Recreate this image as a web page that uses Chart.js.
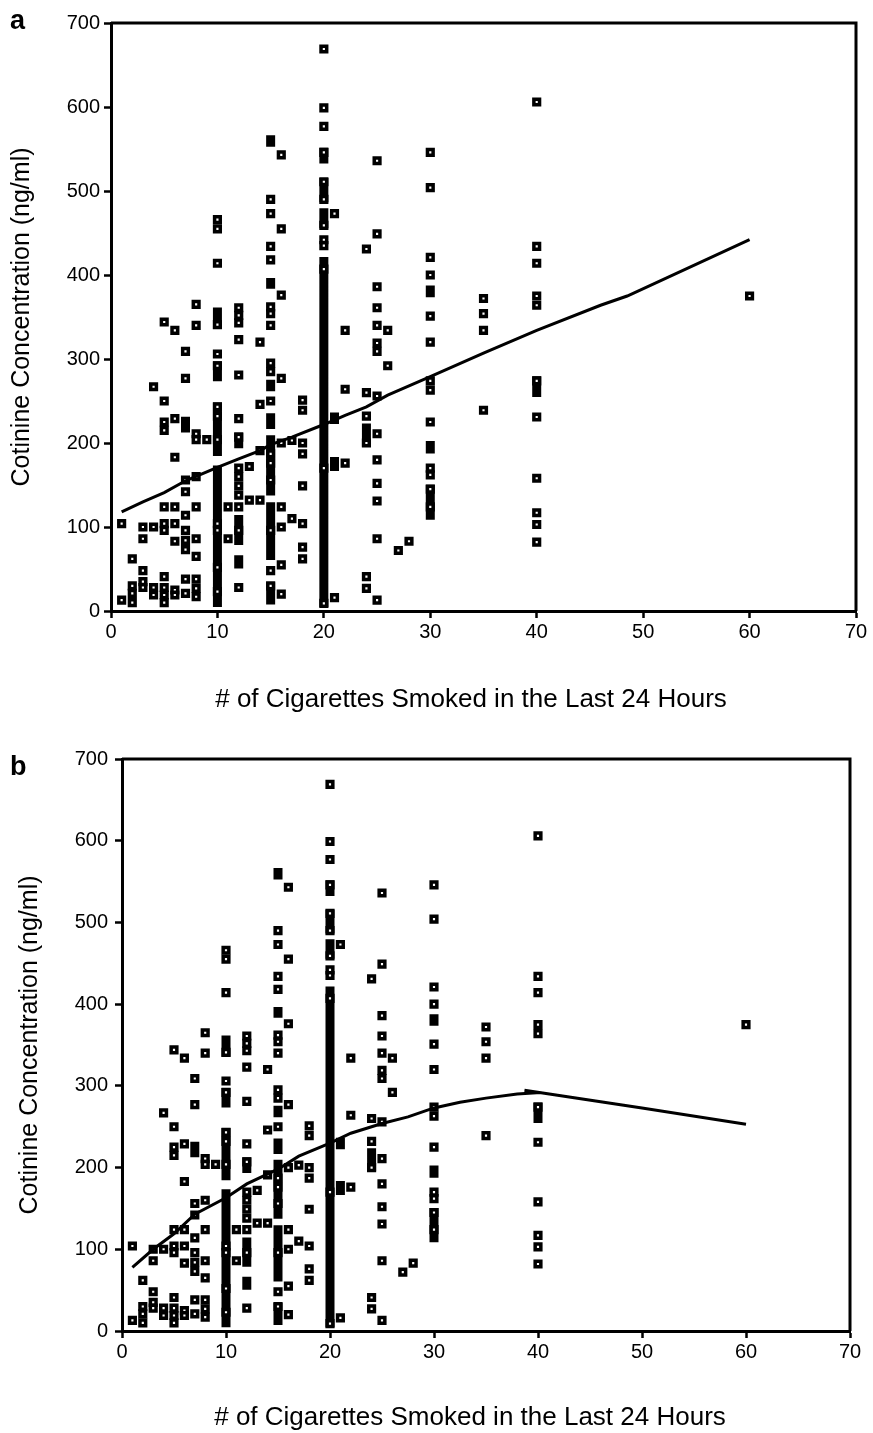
<!DOCTYPE html>
<html>
<head>
<meta charset="utf-8">
<script src="https://cdn.jsdelivr.net/npm/chart.js@4.4.1/dist/chart.umd.min.js"></script>
<style>
    body { margin: 0; background: #fff; }
    canvas { position: absolute; left: 0; }
</style>
</head>
<body>
<canvas id="chart_a" width="873" height="725" style="top:0px"></canvas>
<canvas id="chart_b" width="873" height="703" style="top:730px"></canvas>
<script>
// cigarettes smoked in the last 24 h, and the cotinine readings (ng/ml) at each count
const cigs = [1, 2, 3, 4, 5, 6, 7, 8, 9, 10, 11, 12, 13, 14, 15, 16, 17, 18, 20, 21, 22, 24, 25, 26, 27, 28, 30, 35, 40, 60];
const cotinine = [
    [104, 13],
    [62, 30, 21, 10],
    [100, 86, 48, 35, 28],
    [267, 100, 28, 19],
    [344, 250, 225, 215, 124, 104, 96, 41, 28, 19, 10],
    [334, 229, 183, 124, 104, 83, 25, 19],
    [309, 277, 156, 142, 114, 96, 84, 73, 38, 21],
    [365, 340, 211, 204, 160, 124, 86, 65, 38, 27, 17],
    [204],
    [466, 455, 414, 341, 306, 292, 243, 232, 204, 104, 96, 52, 23],
    [124, 86],
    [361, 352, 343, 323, 281, 229, 207, 170, 160, 149, 138, 124, 96, 28],
    [172, 132],
    [320, 246, 191, 132],
    [490, 473, 434, 418, 362, 354, 340, 295, 285, 250, 187, 176, 156, 96, 48, 30],
    [543, 455, 376, 277, 200, 124, 100, 55, 20],
    [203, 110],
    [251, 239, 200, 187, 149, 104, 76, 62],
    [669, 599, 577, 546, 511, 490, 459, 442, 435, 407, 170, 9],
    [473, 16],
    [334, 264, 176],
    [431, 260, 232, 200, 41, 27],
    [536, 449, 386, 361, 340, 319, 309, 256, 211, 180, 152, 131, 86, 13],
    [334, 292],
    [72],
    [83],
    [546, 504, 421, 400, 351, 320, 274, 263, 225, 170, 162, 145, 124],
    [372, 354, 334, 239],
    [606, 434, 414, 375, 364, 274, 231, 158, 117, 103, 82],
    [375],
];

// runs of readings so close together they print as a solid column
const stack_cigs = [7, 10, 10, 10, 10, 12, 12, 12, 15, 15, 15, 15, 15, 15, 15, 20, 20, 20, 20, 21, 21, 24, 30, 30, 30, 40];
const stack_low  = [218, 341, 279, 190, 10, 199, 84, 56, 558, 389, 267, 222, 143, 66, 13, 538, 492, 461, 10, 228, 172, 201, 379, 193, 114, 260];
const stack_high = [226, 356, 292, 243, 168, 207, 109, 61, 561, 391, 270, 230, 204, 124, 29, 546, 510, 474, 416, 231, 178, 218, 382, 197, 145, 274];

// fitted curves
const fit_a_x = [1, 3, 5, 7, 10, 12, 14, 15, 17, 20, 22, 24, 26, 28, 30, 35, 40, 46, 48.5, 60];
const fit_a_y = [118, 130, 141, 155, 171, 181, 191, 198, 207, 222, 233, 243, 257, 268, 279, 307, 334, 364, 375, 442];
const fit_b_x = [1, 3, 5, 7, 10, 12, 15, 17, 20, 22, 25, 27.5, 30, 32.5, 35, 38, 39.9, 38.7, 50, 60];
const fit_b_y = [78, 100, 119, 143, 163, 180, 198, 214, 230, 242, 254, 262, 273, 280, 285, 290, 291.5, 294.5, 273, 253];

const FONT = "'Liberation Sans', Arial, sans-serif";
const X_TITLE = "# of Cigarettes Smoked in the Last 24 Hours";
const Y_TITLE = "Cotinine Concentration (ng/ml)";

function scatter_points() {
    const pts = [];
    cigs.forEach((c, i) => {
        for (const v of cotinine[i]) pts.push({x: c, y: v});
    });
    return pts;
}

function stack_points() {
    const pts = [];
    stack_cigs.forEach((c, i) => {
        pts.push({x: c, y: stack_low[i]});
        pts.push({x: c, y: stack_high[i]});
        pts.push({x: c, y: null});
    });
    return pts;
}

function fit_points(xs, ys) {
    return xs.map((x, i) => ({x: x, y: ys[i]}));
}

// frame on top / right, panel letter and x axis title
const decor = {
    id: 'decor',
    afterDraw(chart, args, opts) {
        const {ctx, chartArea} = chart;
        ctx.save();
        ctx.strokeStyle = '#000';
        ctx.lineWidth = 3;
        ctx.beginPath();
        ctx.moveTo(chartArea.left, chartArea.top);
        ctx.lineTo(chartArea.right, chartArea.top);
        ctx.lineTo(chartArea.right, chartArea.bottom);
        ctx.stroke();

        ctx.fillStyle = '#000';
        ctx.textBaseline = 'middle';
        ctx.textAlign = 'left';
        ctx.font = `bold 27px ${FONT}`;
        ctx.fillText(opts.letter, opts.letter_x, opts.letter_y);

        ctx.textAlign = 'center';
        ctx.font = `26px ${FONT}`;
        ctx.fillText(X_TITLE, opts.title_x, opts.title_y);
        ctx.restore();
    }
};

function make_chart(id, fx, fy, layout) {
    const tick_font = {family: FONT, size: 20};
    return new Chart(document.getElementById(id), {
        type: 'scatter',
        data: {
            datasets: [
                {
                    data: stack_points(),
                    showLine: true,
                    spanGaps: false,
                    borderColor: '#000',
                    borderWidth: 9,
                    borderCapStyle: 'square',
                    pointRadius: 0,
                    order: 3,
                },
                {
                    data: scatter_points(),
                    pointStyle: 'rect',
                    pointRadius: 4,
                    pointBorderWidth: 3.5,
                    pointBackgroundColor: '#fff',
                    pointBorderColor: '#000',
                    order: 2,
                },
                {
                    data: fit_points(fx, fy),
                    showLine: true,
                    borderColor: '#000',
                    borderWidth: 3,
                    pointRadius: 0,
                    tension: 0,
                    order: 1,
                },
            ],
        },
        options: {
            responsive: false,
            animation: false,
            devicePixelRatio: 1,
            layout: {
                padding: {top: layout.top, right: layout.right, left: 0, bottom: 0},
            },
            plugins: {
                legend: {display: false},
                tooltip: {enabled: false},
                decor: layout.decor,
            },
            scales: {
                x: {
                    type: 'linear',
                    min: 0,
                    max: 70,
                    offset: false,
                    ticks: {stepSize: 10, padding: 2, color: '#000', font: tick_font, maxRotation: 0},
                    grid: {drawOnChartArea: false, offset: false, tickLength: 7, tickWidth: 2.5, tickColor: '#000'},
                    border: {color: '#000', width: 3},
                    afterFit: s => { s.height = layout.x_height; },
                },
                y: {
                    type: 'linear',
                    min: 0,
                    max: 700,
                    ticks: {stepSize: 100, padding: layout.y_pad, color: '#000', font: tick_font},
                    grid: {drawOnChartArea: false, tickLength: 7, tickWidth: 2.5, tickColor: '#000'},
                    border: {color: '#000', width: 3},
                    title: {
                        display: true,
                        text: Y_TITLE,
                        color: '#000',
                        font: {family: FONT, size: 25},
                        padding: {top: layout.y_title_pad, bottom: 0},
                    },
                    afterFit: s => { s.width = layout.y_width; },
                },
            },
        },
        plugins: [decor],
    });
}

make_chart("chart_a", fit_a_x, fit_a_y, {
    top: 23, right: 17, x_height: 114, y_width: 111, y_pad: 4, y_title_pad: 7,
    decor: {letter: 'a', letter_x: 10, letter_y: 22, title_x: 471, title_y: 700},
});

make_chart("chart_b", fit_b_x, fit_b_y, {
    top: 29, right: 23, x_height: 102, y_width: 122, y_pad: 7, y_title_pad: 15,
    decor: {letter: 'b', letter_x: 10, letter_y: 38, title_x: 470, title_y: 688},
});
</script>
</body>
</html>
